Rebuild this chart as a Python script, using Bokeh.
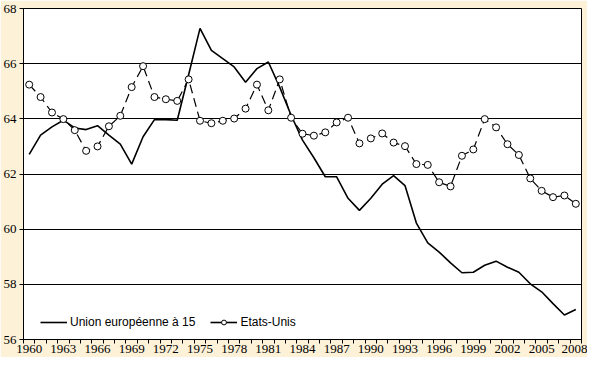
from bokeh.plotting import figure
from bokeh.models import FixedTicker, Legend, LegendItem, Range1d
from bokeh.embed import file_html
from bokeh.resources import INLINE

years = list(range(1960, 2009))
eu15 = [62.71, 63.41, 63.71, 63.95, 63.67, 63.61, 63.75, 63.41, 63.08, 62.36,
        63.35, 63.97, 63.97, 63.95, 65.6, 67.28, 66.48, 66.18, 65.88, 65.33,
        65.82, 66.06, 65.15, 64.13, 63.23, 62.59, 61.9, 61.9, 61.12, 60.68,
        61.12, 61.63, 61.94, 61.58, 60.22, 59.5, 59.17, 58.78, 58.42, 58.44,
        58.69, 58.84, 58.62, 58.44, 58.02, 57.73, 57.3, 56.89, 57.09]
usa = [65.24, 64.79, 64.23, 63.99, 63.59, 62.84, 63.0, 63.73, 64.11, 65.15,
       65.91, 64.79, 64.71, 64.65, 65.43, 63.93, 63.84, 63.93, 64.01, 64.37,
       65.24, 64.31, 65.43, 64.04, 63.46, 63.39, 63.51, 63.87, 64.04, 63.11,
       63.29, 63.47, 63.14, 63.01, 62.36, 62.33, 61.7, 61.55, 62.66, 62.89,
       63.99, 63.69, 63.08, 62.69, 61.84, 61.39, 61.16, 61.22, 60.92]
y_ticks = [56, 58, 60, 62, 64, 66, 68]
x_label_years = list(range(1960, 2009, 3))
series_names = ["Union européenne à 15", "Etats-Unis"]

bg = "#fdf1d8"

p = figure(width=587, height=357, output_backend="svg", toolbar_location=None,
           x_range=Range1d(1959.5, 2008.5), y_range=Range1d(56, 68),
           min_border_left=17, min_border_right=6, min_border_top=8, min_border_bottom=18)
p.background_fill_color = "white"
p.border_fill_color = bg
p.outline_line_color = "black"
p.outline_line_width = 1

p.xgrid.grid_line_color = None
p.ygrid.grid_line_color = "black"
p.ygrid.grid_line_width = 1

p.yaxis.ticker = FixedTicker(ticks=y_ticks)
p.xaxis.ticker = FixedTicker(ticks=x_label_years,
                             minor_ticks=[y - 0.5 for y in years] + [2008.5])
for ax in (p.xaxis[0], p.yaxis[0]):
    ax.axis_line_color = "black"
    ax.major_label_text_font = "Liberation Sans Narrow"
    ax.major_label_text_font_size = "13px"
    ax.major_label_text_color = "black"
    ax.major_tick_line_color = "black"
    ax.minor_tick_line_color = "black"
p.xaxis.major_tick_out = 0
p.xaxis.major_tick_in = 0
p.xaxis.minor_tick_out = 4
p.xaxis.minor_tick_in = 0
p.xaxis.major_label_standoff = 1
p.yaxis.major_tick_out = 4
p.yaxis.major_tick_in = 0
p.yaxis.minor_tick_out = 0
p.yaxis.minor_tick_in = 0
p.yaxis.major_label_standoff = 3

r_eu = p.line(years, eu15, line_color="black", line_width=1.6)
r_us = p.line(years, usa, line_color="black", line_width=1.2, line_dash="9 5")
r_us_m = p.scatter(years, usa, size=7, marker="circle", fill_color="white",
                   line_color="black", line_width=1)
r_us_leg = p.line(years[:1], usa[:1], line_color="black", line_width=1.6)

legend = Legend(items=[LegendItem(label=series_names[0], renderers=[r_eu]),
                       LegendItem(label=series_names[1], renderers=[r_us_leg, r_us_m])],
                orientation="horizontal", location=(17, 10),
                background_fill_alpha=0, border_line_alpha=0,
                padding=0, margin=0, spacing=15,
                glyph_width=27, glyph_height=12, label_standoff=3,
                label_text_font="Liberation Sans", label_text_font_size="12px",
                label_text_color="black")
p.add_layout(legend)

html = file_html(p, INLINE)
html = html.replace("<body>", '<body style="background-color:%s">' % bg, 1)
open("out.html", "w").write(html)
